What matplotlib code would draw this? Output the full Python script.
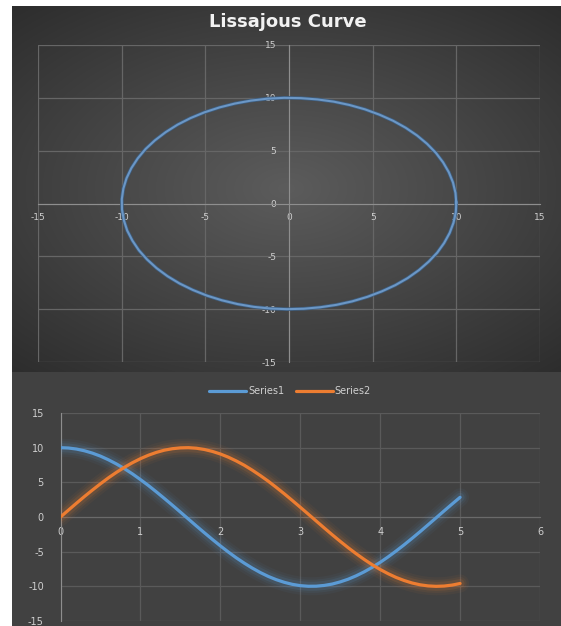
import numpy as np
import matplotlib
matplotlib.use("Agg")
import matplotlib.pyplot as plt

plt.rcParams["axes.unicode_minus"] = False

# Parameter values and the two series (Series1 ~ x, Series2 ~ y of the curve)
t_values = [0.0, 0.1, 0.2, 0.3, 0.4, 0.5, 0.6, 0.7, 0.8, 0.9,
            1.0, 1.1, 1.2, 1.3, 1.4, 1.5, 1.6, 1.7, 1.8, 1.9,
            2.0, 2.1, 2.2, 2.3, 2.4, 2.5, 2.6, 2.7, 2.8, 2.9,
            3.0, 3.1, 3.2, 3.3, 3.4, 3.5, 3.6, 3.7, 3.8, 3.9,
            4.0, 4.1, 4.2, 4.3, 4.4, 4.5, 4.6, 4.7, 4.8, 4.9,
            5.0, 5.1, 5.2, 5.3, 5.4, 5.5, 5.6, 5.7, 5.8, 5.9,
            6.0, 6.1, 6.2, 6.3]
series1 = [10.00, 9.95, 9.80, 9.55, 9.21, 8.78, 8.25, 7.65, 6.97, 6.22,
           5.40, 4.54, 3.62, 2.67, 1.70, 0.71, -0.29, -1.29, -2.27, -3.23,
           -4.16, -5.05, -5.89, -6.66, -7.37, -8.01, -8.57, -9.04, -9.42, -9.71,
           -9.90, -9.99, -9.98, -9.87, -9.67, -9.36, -8.97, -8.48, -7.91, -7.26,
           -6.54, -5.75, -4.90, -4.01, -3.07, -2.11, -1.12, -0.12, 0.88, 1.87,
           2.84, 3.78, 4.69, 5.54, 6.35, 7.09, 7.76, 8.35, 8.86, 9.27,
           9.60, 9.83, 9.97, 10.00]
series2 = [0.00, 1.00, 1.99, 2.96, 3.89, 4.79, 5.65, 6.44, 7.17, 7.83,
           8.41, 8.91, 9.32, 9.64, 9.85, 9.97, 10.00, 9.92, 9.74, 9.46,
           9.09, 8.63, 8.08, 7.46, 6.75, 5.98, 5.16, 4.27, 3.35, 2.39,
           1.41, 0.42, -0.58, -1.58, -2.56, -3.51, -4.43, -5.30, -6.12, -6.88,
           -7.57, -8.18, -8.72, -9.16, -9.52, -9.78, -9.94, -10.00, -9.96, -9.82,
           -9.59, -9.26, -8.83, -8.32, -7.73, -7.06, -6.31, -5.50, -4.65, -3.74,
           -2.79, -1.82, -0.83, 0.17]
series_names = ["Series1", "Series2"]
line_t_max = 5.0

curve_ticks = [-15, -10, -5, 0, 5, 10, 15]
line_xticks = [0, 1, 2, 3, 4, 5, 6]
line_yticks = [-15, -10, -5, 0, 5, 10, 15]

W, H = 561, 626
fig = plt.figure(figsize=(W / 100, H / 100), dpi=100, facecolor="white")

def fx(px):
    return px / W

def fy(py):
    return 1 - py / H

# ---- panel backgrounds ----
top_bg = fig.add_axes([fx(12), fy(372), fx(549), (372 - 6) / H])
yy, xx = np.mgrid[-1:1:300j, -1:1:300j]
r = np.sqrt((xx * 0.95) ** 2 + (yy * 1.05) ** 2)
shade = np.clip(1 - r / 1.45, 0, 1)
c_in, c_out = np.array([0x5c, 0x5c, 0x5c]) / 255, np.array([0x2c, 0x2c, 0x2c]) / 255
img = c_out + (c_in - c_out) * shade[..., None]
top_bg.imshow(img, extent=[0, 1, 0, 1], aspect="auto", interpolation="bicubic")
top_bg.set_axis_off()

bot_bg = fig.add_axes([fx(12), 0, fx(549), fy(372)])
bot_bg.set_facecolor("#414141")
bot_bg.set_xticks([]); bot_bg.set_yticks([])
for s in bot_bg.spines.values():
    s.set_visible(False)

grid_col = "#666666"
axis_col = "#8e8e8e"
label_col = "#cfcfcf"

# ---- top: Lissajous curve ----
ax1 = fig.add_axes([fx(38), fy(362), fx(540 - 38), (362 - 45) / H])
ax1.set_facecolor("none")
ax1.set_xlim(-15, 15); ax1.set_ylim(-15, 15)
ax1.set_xticks(curve_ticks); ax1.set_yticks(curve_ticks)
ax1.grid(True, color=grid_col, lw=0.9)
ax1.set_axisbelow(True)
for name in ["top", "right"]:
    ax1.spines[name].set_visible(False)
ax1.spines["left"].set_position("zero")
ax1.spines["bottom"].set_position("zero")
ax1.spines["left"].set_color(axis_col)
ax1.spines["bottom"].set_color(axis_col)
ax1.tick_params(length=0, colors=label_col, labelsize=6.5)
ax1.tick_params(axis="y", pad=9)
ax1.tick_params(axis="x", pad=7)
ax1.plot(series1, series2, color="#3e5e80", lw=2.6, solid_capstyle="round", zorder=3)
ax1.plot(series1, series2, color="#6b97c6", lw=1.5, solid_capstyle="round", zorder=4)

fig.text(fx(288), fy(22), "Lissajous Curve", ha="center", va="center",
         fontsize=13, fontweight="bold", color="#f2f2f2")

# ---- bottom: both series against t ----
ax2 = fig.add_axes([fx(60.5), fy(621), fx(540 - 60.5), (621 - 413) / H])
ax2.set_facecolor("none")
ax2.set_xlim(0, 6); ax2.set_ylim(-15, 15)
ax2.set_xticks(line_xticks); ax2.set_yticks(line_yticks)
ax2.grid(True, color="#5a5a5a", lw=0.9)
ax2.set_axisbelow(True)
for name in ["top", "right"]:
    ax2.spines[name].set_visible(False)
ax2.spines["bottom"].set_position(("data", 0))
ax2.spines["bottom"].set_color("#6a6a6a")
ax2.spines["left"].set_color(axis_col)
ax2.tick_params(length=0, colors=label_col, labelsize=7)
ax2.tick_params(axis="y", pad=12)
ax2.tick_params(axis="x", pad=7)

n = sum(1 for v in t_values if v <= line_t_max)
t_line = t_values[:n]
colors = ["#5b9bd5", "#ed7d31"]
handles = []
for vals, col, name in zip([series1[:n], series2[:n]], colors, series_names):
    for lw, a in [(13, 0.05), (9.5, 0.07), (6.5, 0.12)]:
        ax2.plot(t_line, vals, color=col, lw=lw, alpha=a, solid_capstyle="round", zorder=3)
    h, = ax2.plot(t_line, vals, color=col, lw=2.3, solid_capstyle="round", zorder=4, label=name)
    handles.append(h)

leg = fig.legend(handles=handles, loc="center", bbox_to_anchor=(fx(290), fy(391)),
                 ncol=2, frameon=False, fontsize=7, handlelength=3.8,
                 handletextpad=0.2, columnspacing=1.2)
for txt in leg.get_texts():
    txt.set_color(label_col)

fig.savefig("out.png", dpi=100, facecolor="white")
